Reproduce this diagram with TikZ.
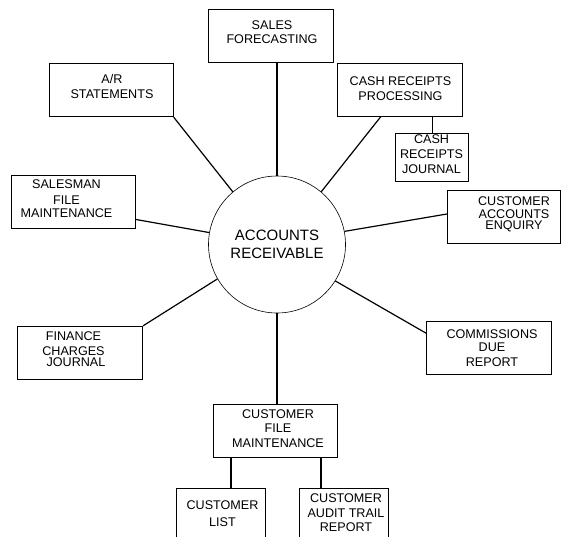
\documentclass[tikz,border=0pt]{standalone}
\usepackage{fontspec}
\setmainfont{Liberation Sans}
\usetikzlibrary{calc}
\begin{document}
\begin{tikzpicture}[x=1pt,y=-1pt,
  box/.style={draw, line width=0.8pt, inner sep=0pt, minimum width=#1, minimum height=53pt},
  box/.default=125pt,
  lbl/.style={align=center, inner sep=0pt, font=\fontsize{12.6}{14}\selectfont},
  spoke/.style={line width=1.2pt},
  link/.style={line width=1.2pt}]
\useasboundingbox (0,0) rectangle (561,536);
\clip (0,0) rectangle (561,536);
% central circle
\node[circle, draw, line width=0.6pt, minimum size=137pt, inner sep=0pt,
      align=center, font=\fontsize{15}{18.4}\selectfont] (ar) at (277,244.5) {ACCOUNTS\\RECEIVABLE};
% boxes
\node[box] (sales) at (270.5,35.5) {};
\node[box=124pt] (arst) at (111.3,90.3) {};
\node[box] (crp) at (400.2,89.7) {};
\node[box=73.3pt, minimum height=48.4pt] (crj) at (431.7,157.5) {};
\node[box=124pt] (sm) at (73,202) {};
\node[box=113.2pt] (cae) at (503.9,217) {};
\node[box] (fcj) at (80.2,352.7) {};
\node[box] (cdr) at (489.2,348.3) {};
\node[box=124pt] (cfm) at (275.3,431.3) {};
\node[box=89pt] (cl) at (221.2,514.8) {};
\node[box=89.3pt] (catr) at (343.7,514.8) {};
% labels
\node[lbl] (salesT) at (272,32.5) {SALES\\FORECASTING};
\node[lbl] (arstT) at (112,86) {A/R\\[1pt]STATEMENTS};
\node[lbl] (crpT) at (400.5,88.9) {CASH RECEIPTS\\[0.7pt]PROCESSING};
\node[lbl] (crjT) at (431.5,154.5) {CASH\\[1pt]RECEIPTS\\[1pt]JOURNAL};
\node[lbl] (smT) at (66.5,198.3) {SALESMAN\\[2pt]FILE\\[-1pt]MAINTENANCE};
\node[lbl] (caeT) at (514,214.2) {CUSTOMER\\[-1pt]ACCOUNTS\\[-2.5pt]ENQUIRY};
\node[lbl] (fcjT) at (73.5,349.5) {FINANCE\\[0.5pt]CHARGES\\[-2.5pt]\hspace*{5pt}JOURNAL};
\node[lbl] (cdrT) at (492,348.2) {COMMISSIONS\\[-1pt]DUE\\[1.5pt]REPORT};
\node[lbl] (cfmT) at (278,428.7) {CUSTOMER\\FILE\\[1.5pt]MAINTENANCE};
\node[lbl] (clT) at (222.5,513.7) {CUSTOMER\\[2.5pt]LIST};
\node[lbl] (catrT) at (346,512.5) {CUSTOMER\\[1.5pt]AUDIT TRAIL\\[-0.5pt]REPORT};
% spokes
\draw[spoke] (ar.north) -- (ar.north |- sales.south);
\draw[spoke] (ar.130) -- (arst.south east);
\draw[spoke] (ar.50.9) -- ($(crp.south west)!0.346!(crp.south east)$);
\draw[spoke] (ar.170) -- ($(sm.south east)!0.177!(sm.north east)$);
\draw[spoke] (ar.11) -- ([yshift=3pt]cae.west);
\draw[spoke] (ar.210.2) -- (fcj.north east);
\draw[spoke] (ar.328.8) -- ([yshift=15pt]cdr.west);
\draw[spoke] (ar.south) -- (ar.south |- cfm.north);
% sub links
\draw[link] ([xshift=0.6pt]crj.north) -- ([xshift=0.6pt]crj.north |- crp.south);
\draw[link] ([xshift=9.8pt]cl.north) -- ([xshift=9.8pt]cl.north |- cfm.south);
\draw[line width=1.8pt] ([xshift=-22.7pt]catr.north) -- ([xshift=-22.7pt]catr.north |- cfm.south);
\end{tikzpicture}
\end{document}
